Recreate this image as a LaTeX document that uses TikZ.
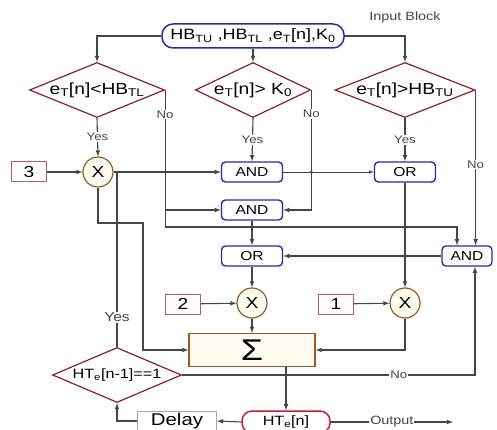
\documentclass[tikz,border=0pt]{standalone}
\usepackage{fontspec}
\setmainfont{Liberation Sans}[FakeStretch=1.2]
\usepackage{tikz}
\usetikzlibrary{shapes.geometric, positioning}
\definecolor{lgray}{RGB}{70,70,70}
\definecolor{lblue}{RGB}{40,40,170}
\definecolor{dred}{RGB}{140,30,40}
\definecolor{hred}{RGB}{200,30,50}
\definecolor{brn}{RGB}{150,90,40}
\definecolor{cream}{RGB}{255,250,240}
\definecolor{pnk}{RGB}{180,90,100}

\begin{document}
\begin{tikzpicture}[x=1pt, y=-1pt,
  line/.style={draw=lgray, line width=1.1pt},
  arr/.style={line, -latex},
  lbl/.style={fill=white, inner sep=1pt, text=lgray, font=\fontsize{11}{11}\selectfont},
  dec/.style={diamond, aspect=2.5, draw=dred, line width=1.2pt, inner sep=0pt, minimum height=55pt, font=\fontsize{16}{16}\selectfont},
  logic/.style={draw=lblue, line width=1.4pt, rounded corners=4pt, minimum width=61pt, minimum height=20pt, inner sep=0pt, font=\fontsize{13}{13}\selectfont},
  mult/.style={circle, draw=brn, fill=cream, line width=1.2pt, minimum size=30pt, inner sep=0pt, font=\fontsize{16}{16}\selectfont},
  const/.style={draw=pnk, line width=1pt, minimum width=35pt, minimum height=20pt, inner sep=0pt, font=\fontsize{16}{16}\selectfont},
  inblk/.style={draw=lblue, line width=1.5pt, rounded corners=11pt, minimum width=182pt, minimum height=24pt, inner sep=0pt, font=\fontsize{15}{15}\selectfont},
  sumblk/.style={draw=brn, fill=cream, line width=1.2pt, minimum width=126pt, minimum height=33pt, inner sep=0pt, font=\fontsize{30}{30}\selectfont},
  delayblk/.style={draw=gray!70, line width=1pt, minimum width=79pt, minimum height=20pt, inner sep=0pt, font=\fontsize{17}{17}\selectfont},
  outblk/.style={draw=hred, line width=1.5pt, rounded corners=10pt, minimum width=88pt, minimum height=22pt, inner sep=0pt, font=\fontsize{13.5}{13.5}\selectfont}
]
\useasboundingbox (0,0) rectangle (497,430);

\node[inblk] (in) at (253,36) {HB\textsubscript{TU} ,HB\textsubscript{TL} ,e\textsubscript{T}[n],K\textsubscript{0}};
\node[text=lgray, font=\fontsize{12}{12}\selectfont] (inlbl) at (405,17) {Input Block};

\node[dec, minimum width=135pt] (d1) at (97,90) {e\textsubscript{T}[n]<HB\textsubscript{TL}};
\node[dec, minimum width=115pt] (d2) at (253,90) {e\textsubscript{T}[n]> K\textsubscript{0}};
\node[dec, minimum width=140pt] (d3) at (405,90) {e\textsubscript{T}[n]>HB\textsubscript{TU}};

\node[const] (n3) at (29,172) {3};
\node[mult] (x3) at (98,172) {X};
\node[logic] (and1) at (252,172) {AND};
\node[logic] (and2) at (252,210) {AND};
\node[logic] (orr) at (405,172) {OR};
\node[logic] (orm) at (252,256) {OR};
\node[logic, minimum width=50pt] (andr) at (467,256) {AND};
\node[const] (n2) at (183,304) {2};
\node[mult] (x2) at (252,303) {X};
\node[const] (n1) at (336,304) {1};
\node[mult] (x1) at (405,303) {X};
\node[sumblk] (sum) at (252,350) {Σ};
\node[dec, minimum width=129pt, font=\fontsize{13.5}{13.5}\selectfont] (htd) at (117,375) {HT\textsubscript{e}[n-1]==1};
\node[delayblk] (dly) at (177,421) {Delay};
\node[outblk] (ht) at (286,422) {HT\textsubscript{e}[n]};
\coordinate (bus) at (0,227);
\coordinate (kink) at (143,223);
\coordinate (out) at (453,422);

\draw[arr] (in.west) -| (d1.north);
\draw[arr] (in.east) -| (d3.north);
\draw[arr] (in.south) -- (d2.north);
\draw[arr] (d1.south) -- node[lbl]{Yes} (x3.north);
\draw[arr] (d2.south) -- node[lbl]{Yes} (and1.north);
\draw[arr] (d3.south) -- node[lbl]{Yes} (orr.north);
\draw[arr] (d1.east) -- node[lbl, pos=0.18]{No} (d1.east |- bus) -| ([xshift=-10pt]andr.north);
\draw[arr] (d1.east |- and2.west) -- (and2.west);
\draw[arr] (d2.east) |- node[lbl, pos=0.1]{No} (and2.east);
\draw[arr] (d3.east) -- node[lbl, pos=0.48]{No} (d3.east |- andr.north);
\draw[arr] (n3) -- (x3);
\draw[arr] (x3.east) -- (and1.west);
\draw[line] (htd.north) -- node[lbl, pos=0.17, font=\fontsize{13}{13}\selectfont]{Yes} (htd.north |- x3.east);
\draw[arr] (x3.south) |- (kink) |- (sum.west);
\draw[arr, line width=0.6pt] (and1.east) -- (orr.west);
\draw[arr] (and2.south) -- (orm.north);
\draw[arr] (andr.west) -- (orm.east);
\draw[arr] (orr.south) -- (x1.north);
\draw[arr] (orm.south) -- (x2.north);
\draw[arr] (n2) -- (x2);
\draw[arr] (n1) -- (x1);
\draw[arr] (x2.south) -- (sum.north);
\draw[arr] (x1.south) |- (sum.east);
\draw[arr] (htd.east) -| node[lbl, pos=0.37]{No} ([xshift=8pt]andr.south);
\draw[arr] (ht.north |- sum.south) -- (ht.north);
\draw[arr] (ht.west) -- (dly.east);
\draw[arr] (dly.west) -| (htd.south);
\draw[arr] (ht.east) -- node[lbl, font=\fontsize{12}{12}\selectfont]{Output} (out);

\foreach \p in {(d1.east |- x3.east), (htd.north |- kink), (d2.east |- and1.east), (and2.south |- bus), (orr.south |- bus), (ht.north |- htd.east)}
  \fill[lgray] \p circle (1.6pt);
\end{tikzpicture}
\end{document}
